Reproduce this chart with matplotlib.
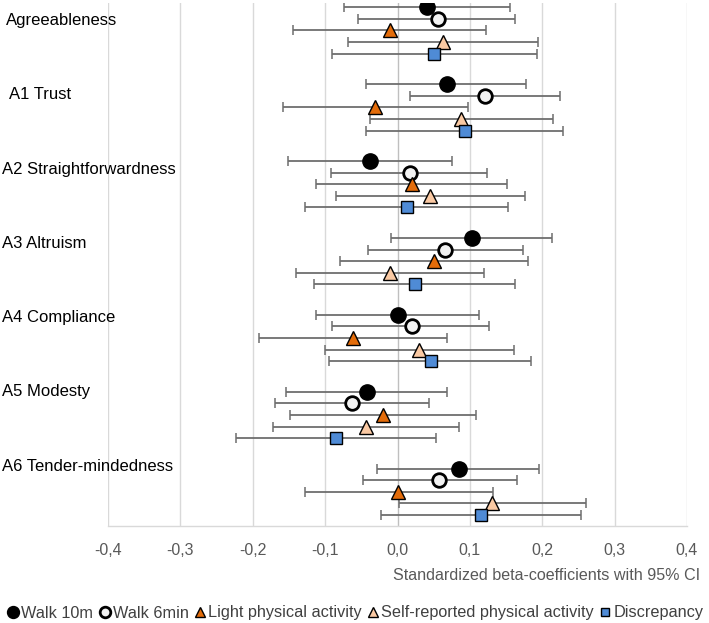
import matplotlib
matplotlib.use("Agg")
import matplotlib.pyplot as plt
import matplotlib.transforms as mtransforms
from matplotlib.lines import Line2D

plt.rcParams['font.family'] = ['Liberation Sans', 'DejaVu Sans']

# Data (standardized beta-coefficients with 95% CI)
traits = ["Agreeableness", "A1 Trust", "A2 Straightforwardness", "A3 Altruism",
          "A4 Compliance", "A5 Modesty", "A6 Tender-mindedness"]

walk10 = [0.041, 0.068, -0.038, 0.103, 0.001, -0.042, 0.085]
walk10_lo = [-0.074, -0.043, -0.151, -0.009, -0.113, -0.154, -0.028]
walk10_hi = [0.155, 0.177, 0.075, 0.214, 0.113, 0.068, 0.195]

walk6 = [0.056, 0.121, 0.017, 0.066, 0.020, -0.063, 0.058]
walk6_lo = [-0.054, 0.017, -0.092, -0.041, -0.090, -0.169, -0.048]
walk6_hi = [0.163, 0.225, 0.124, 0.173, 0.126, 0.043, 0.165]

light = [-0.011, -0.031, 0.020, 0.051, -0.061, -0.020, 0.001]
light_lo = [-0.144, -0.158, -0.112, -0.079, -0.191, -0.148, -0.128]
light_hi = [0.122, 0.097, 0.151, 0.181, 0.069, 0.109, 0.132]

selfrep = [0.063, 0.088, 0.045, -0.011, 0.030, -0.044, 0.131]
selfrep_lo = [-0.069, -0.038, -0.085, -0.140, -0.100, -0.172, 0.002]
selfrep_hi = [0.194, 0.215, 0.176, 0.119, 0.161, 0.085, 0.260]

discrep = [0.051, 0.093, 0.013, 0.024, 0.046, -0.085, 0.116]
discrep_lo = [-0.091, -0.043, -0.128, -0.115, -0.095, -0.223, -0.023]
discrep_hi = [0.193, 0.228, 0.152, 0.163, 0.185, 0.053, 0.254]

series_names = ["Walk 10m", "Walk 6min", "Light physical activity",
                "Self-reported physical activity", "Discrepancy"]
xticks = [-0.4, -0.3, -0.2, -0.1, 0.0, 0.1, 0.2, 0.3, 0.4]
xtick_labels = ["-0,4", "-0,3", "-0,2", "-0,1", "0,0", "0,1", "0,2", "0,3", "0,4"]

series = [
    (walk10, walk10_lo, walk10_hi, dict(marker='o', ms=11, mfc='black', mec='black', mew=1.0)),
    (walk6, walk6_lo, walk6_hi, dict(marker='o', ms=9.8, mfc='#F2F2F2', mec='black', mew=2.0)),
    (light, light_lo, light_hi, dict(marker='^', ms=9.5, mfc='#E36C0A', mec='black', mew=1.0)),
    (selfrep, selfrep_lo, selfrep_hi, dict(marker='^', ms=9.5, mfc='#FAC9A3', mec='black', mew=1.0)),
    (discrep, discrep_lo, discrep_hi, dict(marker='s', ms=8.3, mfc='#4F8BD6', mec='black', mew=1.0)),
]

W, H = 709, 623
fig = plt.figure(figsize=(W / 100, H / 100), dpi=100)
ax = fig.add_axes([108 / W, 1 - 526 / H, (687 - 108) / W, (526 - 3) / H])

# row layout: one row per series, groups per trait
group_step = 6.63
for j, (vals, lo, hi, style) in enumerate(series):
    ys = [g * group_step + j for g in range(len(traits))]
    err = [[v - l for v, l in zip(vals, lo)], [h - v for v, h in zip(vals, hi)]]
    ax.errorbar(vals, ys, xerr=err, fmt='none', ecolor='#6E6E6E', elinewidth=1.3,
                capsize=3.5, capthick=1.1, zorder=3)
    ax.plot(vals, ys, linestyle='none', zorder=4 + j, **style)

ax.set_xlim(-0.4, 0.4)
ax.set_ylim(44.72, -0.37)
ax.set_xticks(xticks)
ax.set_xticklabels(xtick_labels)
ax.set_yticks([])
ax.tick_params(axis='x', length=0, pad=12, labelsize=11.5, labelcolor='#595959')
for x in xticks:
    ax.axvline(x, color='#BFBFBF' if x == 0 else '#D9D9D9', lw=1.0, zorder=1)
for s in ['top', 'left', 'right']:
    ax.spines[s].set_visible(False)
ax.spines['bottom'].set_color('#D9D9D9')
ax.spines['bottom'].set_linewidth(1.0)

# trait labels on the left
trans = mtransforms.blended_transform_factory(fig.transFigure, ax.transData)
label_x = [6, 8.6, 2, 2, 2, 2, 2]
for g, name in enumerate(traits):
    ax.text(label_x[g] / W, 1.15 + 6.4 * g, name, transform=trans, ha='left',
            va='center', fontsize=12, color='black', clip_on=False)

fig.text(700 / W, 1 - 576 / H, "Standardized beta-coefficients with 95% CI",
         ha='right', va='center', fontsize=11.6, color='#595959')

handles = [Line2D([], [], linestyle='none', **dict(s[3], ms=s[3]['ms'] * 0.78)) for s in series]
fig.legend(handles, series_names, loc='center', bbox_to_anchor=(355 / W, 1 - 613 / H),
           ncol=5, frameon=False, fontsize=11.7, handlelength=0.8, handletextpad=0.1,
           columnspacing=0.3, borderpad=0, labelcolor='#404040')

fig.savefig("out.png", dpi=100)
